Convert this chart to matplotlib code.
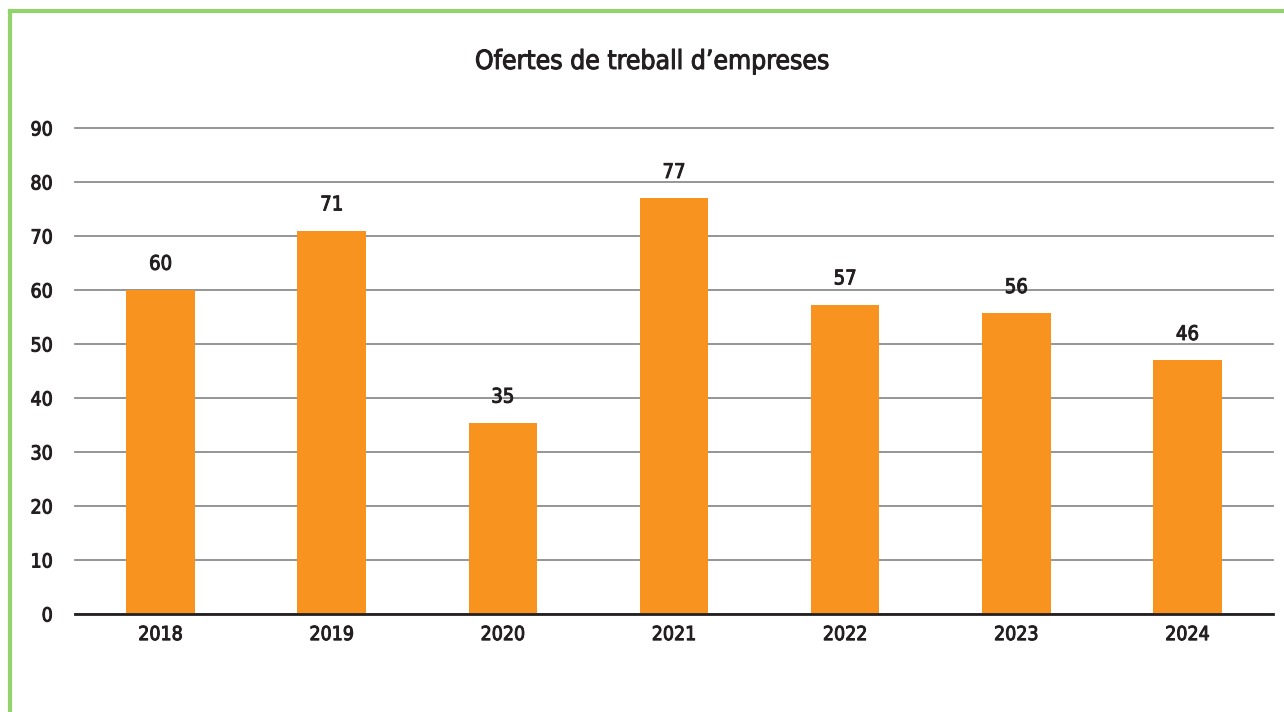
import matplotlib.pyplot as plt
from matplotlib.lines import Line2D
import matplotlib.patheffects as pe

years = ["2018", "2019", "2020", "2021", "2022", "2023", "2024"]
offers = [60, 71, 35.4, 77, 57.3, 55.7, 47]
labels = ["60", "71", "35", "77", "57", "56", "46"]

plt.rcParams['font.family'] = ['DejaVu Sans']
plt.rcParams['font.stretch'] = 'condensed'
txt = '#231f20'
thick = [pe.withStroke(linewidth=0.7, foreground=txt)]

fig = plt.figure(figsize=(12.84, 7.12), dpi=100)
ax = fig.add_axes([75/1284, 1 - 614/712, 1198/1284, 486/712])

x = range(len(years))
ax.bar(x, offers, width=0.4, color='#f7931e', zorder=3)
for i, v in enumerate(offers):
    ax.text(i, v + 3, labels[i], ha='center', va='bottom', fontsize=14.5, color=txt,
            path_effects=thick)

ax.set_xlim(-0.5, len(years) - 0.5)
ax.set_ylim(0, 90)
ax.set_yticks(range(0, 91, 10))
ax.set_xticks(list(x))
ax.set_xticklabels(years)
ax.yaxis.grid(True, color='#8c8c8c', linewidth=1.3, zorder=0)
for gl in ax.get_ygridlines():
    gl.set_clip_on(False)
ax.tick_params(length=0, labelsize=14, colors=txt)
ax.tick_params(axis='y', pad=16)
ax.tick_params(axis='x', pad=8)
for lab in ax.get_xticklabels() + ax.get_yticklabels():
    lab.set_path_effects(thick)
for s in ['top', 'right', 'left']:
    ax.spines[s].set_visible(False)
ax.spines['bottom'].set_color(txt)
ax.spines['bottom'].set_linewidth(2)
ax.spines['bottom'].set_zorder(4)

fig.text(652/1284, 1 - 62/712, "Ofertes de treball d\u2019empreses", ha='center', va='center',
         fontsize=19, color=txt, path_effects=thick)

# green frame on the left and top
green = '#92d36e'
fig.add_artist(Line2D([10/1284, 10/1284], [0, 1 - 11/712], color=green, linewidth=3, transform=fig.transFigure))
fig.add_artist(Line2D([10/1284, 1], [1 - 11/712, 1 - 11/712], color=green, linewidth=3, transform=fig.transFigure))

plt.savefig('out.png')
